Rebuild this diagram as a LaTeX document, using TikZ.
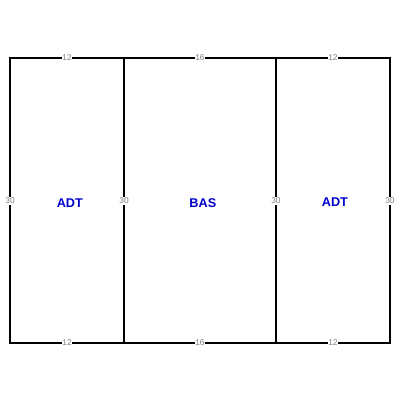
\documentclass[tikz,border=0pt]{standalone}
\usepackage{fontspec}
\setmainfont{Liberation Sans}
\tikzset{
  wall/.style={line width=1.5pt,black},
  dim/.style={fill=white,inner sep=0.6pt,text=gray,font=\fontsize{6.3}{7}\selectfont},
  room/.style={text=blue!80!black,font=\bfseries\fontsize{9.5}{10}\selectfont}
}
\begin{document}
\begin{tikzpicture}[x=0.25cm,y=0.25cm]

%SPACING
\useasboundingbox (-1.053,-6.0) rectangle (41.053,36.105);
%SPACING

\coordinate (a0) at (0,0);
\coordinate (a1) at (12,0);
\coordinate (a2) at (28,0);
\coordinate (a3) at (40,0);
\coordinate (b0) at (0,30);
\coordinate (b1) at (12,30);
\coordinate (b2) at (28,30);
\coordinate (b3) at (40,30);

\draw[wall] (a0) -- (a3) -- (b3) -- (b0) -- cycle;
\draw[wall] (a1) -- (b1);
\draw[wall] (a2) -- (b2);

\node[dim](t1) at (6,30) {12};
\node[dim](t2) at (20,30) {16};
\node[dim](t3) at (34,30) {12};
\node[dim](u1) at (6,0) {12};
\node[dim](u2) at (20,0) {16};
\node[dim](u3) at (34,0) {12};
\node[dim](s0) at (0,14.95) {30};
\node[dim](s1) at (12,14.95) {30};
\node[dim](s2) at (28,14.95) {30};
\node[dim](s3) at (40,14.95) {30};

\node[room](r1) at (6.3,14.72) {ADT};
\node[room](r2) at (20.3,14.72) {BAS};
\node[room](r3) at (34.2,14.84) {ADT};

\end{tikzpicture}
\end{document}
